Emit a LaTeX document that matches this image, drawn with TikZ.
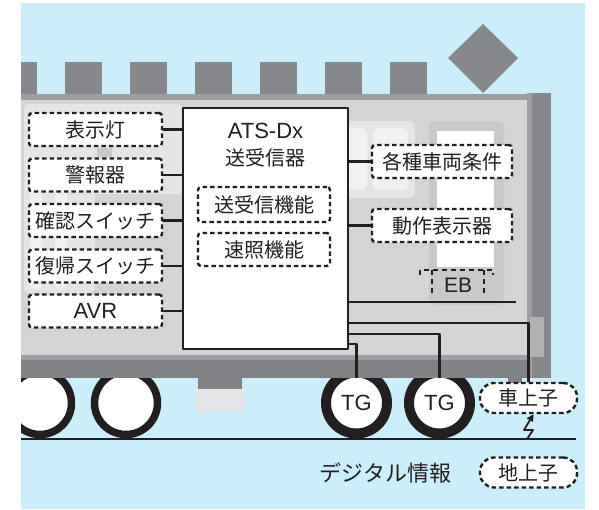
\documentclass[tikz,border=0pt]{standalone}
\usepackage{fontspec}
\setmainfont{Liberation Sans}
\newfontfamily\jp{Noto Sans CJK JP}
\usetikzlibrary{arrows.meta}

\definecolor{sky}{RGB}{204,237,250}
\definecolor{roofgray}{RGB}{135,136,139}
\definecolor{bandgray}{RGB}{157,158,161}
\definecolor{bodygray}{RGB}{211,212,214}
\definecolor{skirtgray}{RGB}{129,130,133}
\definecolor{doorgray}{RGB}{200,201,203}
\definecolor{winlight}{RGB}{228,229,230}
\definecolor{winpane}{RGB}{241,241,242}
\definecolor{mountgray}{RGB}{229,230,231}
\definecolor{ink}{RGB}{35,31,32}

\begin{document}
\begin{tikzpicture}[x=1pt, y=-1pt, line join=round,
  every node/.style={text=ink, inner sep=0pt},
  dbox/.style={draw=ink, fill=white, line width=2.4pt, dash pattern=on 4.5pt off 3pt, rounded corners=3pt, minimum height=33pt, font=\jp\fontsize{20}{24}\selectfont},
  pill/.style={dbox, rounded corners=14pt, minimum width=97pt, minimum height=30pt},
  wheel/.style={circle, draw=ink, fill=white, line width=7.5pt, minimum size=63pt},
  tgwheel/.style={wheel, line width=10pt, minimum size=61pt, font=\fontsize{22}{24}\selectfont},
  wire/.style={draw=ink, line width=2.2pt}]
\useasboundingbox (0,0) rectangle (599,509);

\begin{scope}
\clip (21,3) rectangle (585,509);
% Sky
\fill[sky] (21,3) rectangle (585,509);

% Roof fittings and pantograph
\foreach \x in {0,65,...,390}
  \fill[roofgray] (\x,62) rectangle (\x+37,94);
\fill[roofgray] (448,58) -- (483,24) -- (518,58) -- (483,93) -- cycle;

% Wheels (tops hidden under the skirt)
\node[wheel] (w1) at (40,403) {};
\node[wheel] (w2) at (126,403) {};
\node[tgwheel] (tg1) at (356.5,403) {TG};
\node[tgwheel] (tg2) at (439.5,403) {TG};

% Car body
\fill[bandgray] (21,94) rectangle (527,100);
\fill[bodygray] (21,100) rectangle (527,355);
\fill[bandgray] (21,355) rectangle (527,360);
\fill[skirtgray] (21,360) rectangle (527,378);
\fill[roofgray] (527,93) rectangle (551,378);
\fill[bandgray] (527,93) rectangle (532,378);
\fill[bandgray!80!white] (530,317) rectangle (544,357);

% Windows
\fill[winlight, rounded corners=6pt] (24,104) rectangle (183,194);
\fill[winlight, rounded corners=6pt] (24,104) rectangle (95,293);
\fill[winpane, rounded corners=5pt] (30,190) rectangle (42,289);
\fill[winpane, rounded corners=5pt] (55,190) rectangle (67,289);
\fill[doorgray] (97,148) rectangle (112,157);
\fill[winlight, rounded corners=6pt] (340,121) rectangle (415,198);
\fill[winpane, rounded corners=5pt] (340,128) rectangle (367,190);
\fill[winpane, rounded corners=5pt] (373,128) rectangle (408,190);

% Door
\fill[doorgray, rounded corners=6pt] (429,121) rectangle (504,305);
\fill[white] (437,131) rectangle (494,267);

% Underfloor boxes
\fill[skirtgray] (198,378) rectangle (242,389);
\fill[mountgray] (196,389) rectangle (245,412);
\fill[skirtgray] (508,378) rectangle (522,384);

% ATS-Dx transceiver
\node[draw=ink, fill=white, line width=2.4pt, minimum width=165pt, minimum height=241pt] (ats) at (265.5,228.5) {};
\node[font=\fontsize{22}{24}\selectfont] (atsname) at (265.5,131) {ATS-Dx};
\node[font=\jp\fontsize{20}{24}\selectfont] (atssub) at (265.5,158) {送受信器};
\node[dbox, minimum width=132pt, minimum height=35pt] (txrx) at (264,204.5) {送受信機能};
\node[dbox, minimum width=132pt] (speed) at (264,249.5) {速照機能};

% Cab devices
\node[dbox, minimum width=133pt] (lamp) at (95.5,129.5) {表示灯};
\node[dbox, minimum width=133pt] (alarm) at (95.5,175) {警報器};
\node[dbox, minimum width=133pt] (confirm) at (95.5,220.5) {確認スイッチ};
\node[dbox, minimum width=133pt] (reset) at (95.5,266) {復帰スイッチ};
\node[dbox, minimum width=133pt, font=\fontsize{22}{24}\selectfont] (avr) at (95.5,311) {AVR};

\draw[wire] (lamp.east) -- (lamp.east -| ats.west);
\draw[wire] (alarm.east) -- (alarm.east -| ats.west);
\draw[wire] (confirm.east) -- (confirm.east -| ats.west);
\draw[wire] (reset.east) -- (reset.east -| ats.west);
\draw[wire] (avr.east) -- (avr.east -| ats.west);

% Vehicle side
\node[dbox, minimum width=140pt] (cond) at (442,161.5) {各種車両条件};
\node[dbox, minimum width=140pt] (indic) at (442,225.5) {動作表示器};
\draw[wire] (cond.west) -- (cond.west -| ats.east);
\draw[wire] (indic.west) -- (indic.west -| ats.east);

% Emergency brake
\node[font=\fontsize{21}{24}\selectfont] (eb) at (458,285) {EB};
\draw[ink, line width=2.4pt, dash pattern=on 5pt off 4pt] (420,275) -- (420,270) -- (493,270) -- (493,275);
\draw[ink, line width=2.4pt, dash pattern=on 5pt off 4pt] (432,270) -- (432,297);
\draw[ink, line width=2.4pt, dash pattern=on 5pt off 4pt] (484,270) -- (484,297);
\coordinate (brake) at (516,302);
\draw[wire] (ats.east |- brake) -- (brake);

% Rail
\draw[ink, line width=2pt] (21,439) -- (576,439);

% Antennas
\node[pill] (shajo) at (528.5,398) {車上子};
\node[pill] (chijo) at (528.5,472.5) {地上子};
\node[font=\jp\fontsize{22}{24}\selectfont] (digital) at (385.5,473) {デジタル情報};

% Wiring to generators and antenna
\coordinate (busA) at (528,323);
\coordinate (busB) at (440,334);
\coordinate (busC) at (356,344);
\draw[wire] (ats.east |- busA) -| (shajo.north);
\draw[wire, shorten >=-10pt] (ats.east |- busB) -| (tg2.north);
\draw[wire, shorten >=-10pt] (ats.east |- busC) -| (tg1.north);

% Radio link
\coordinate (bolt) at (527,439);
\draw[ink, line width=1.8pt, -{Triangle[length=7pt,width=7pt]}] (bolt) -- ++(6,-9) -- ++(-9,0) -- ([xshift=5pt]shajo.south);
\end{scope}
\end{tikzpicture}
\end{document}
